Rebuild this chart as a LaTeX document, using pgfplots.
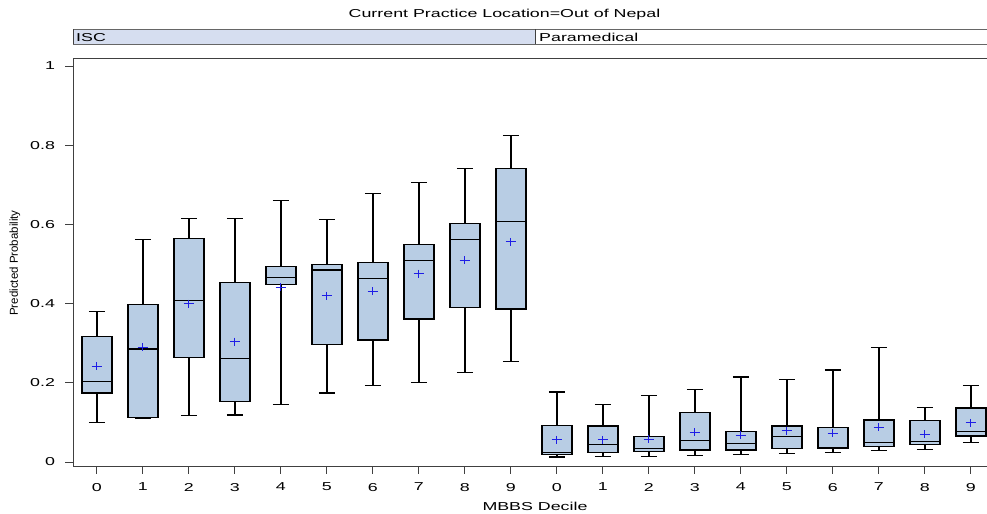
\documentclass[border=0pt]{standalone}
\usepackage{fontspec}
\setmainfont{Liberation Sans}[FakeStretch=1.55]
\newfontfamily\ylfont{Liberation Sans}
\usepackage{pgfplots}
\usepackage{pgfplotstable}
\pgfplotsset{compat=1.18}
\usepgfplotslibrary{statistics}
\definecolor{boxfill}{RGB}{184,205,228}
\definecolor{stripfill}{RGB}{214,222,240}
\definecolor{meanblue}{RGB}{30,30,230}

% means of each decile group (ISC 0-9 at 0..9, Paramedical 0-9 at 10..19)
\pgfplotstableread{
pos mean
0 0.242
1 0.290
2 0.400
3 0.304
4 0.441
5 0.420
6 0.431
7 0.476
8 0.510
9 0.556
10 0.056
11 0.056
12 0.057
13 0.075
14 0.068
15 0.079
16 0.072
17 0.088
18 0.070
19 0.099
}\meandata

\pgfplotsset{
  bx/.style n args={6}{draw=black, fill=boxfill, line width=1.3bp,
    boxplot/draw direction=y,
    boxplot prepared={draw position=#1, lower whisker=#2,
      lower quartile=#3, median=#4, upper quartile=#5, upper whisker=#6,
      box extend=0.65, whisker extend=0.35}},
}

\begin{document}
\fontsize{11.5bp}{13.8bp}\selectfont
\begin{tikzpicture}
\path[use as bounding box] (0,0) rectangle (987bp,514bp);
\begin{axis}[
  at={(73bp,48bp)}, anchor=south west,
  scale only axis, width=914bp, height=407bp,
  xmin=-0.52, xmax=19.35, ymin=-0.0101, ymax=1.0177,
  axis x line*=bottom, axis y line*=left,
  axis line style={black!75, line width=1bp},
  xtick={0,...,19},
  xticklabels={0,1,2,3,4,5,6,7,8,9,0,1,2,3,4,5,6,7,8,9},
  ytick={0,0.2,0.4,0.6,0.8,1},
  yticklabels={0,0.2,0.4,0.6,0.8,1},
  tick align=outside,
  major tick length=8bp,
  tick style={black!75, line width=1bp},
  /pgf/number format/assume math mode=true,
  xticklabel style={yshift=-5bp},
  yticklabel style={xshift=-6bp},
  boxplot/draw direction=y,
  clip=false,
]
% ISC
\addplot[bx={0}{0.100}{0.174}{0.204}{0.317}{0.380}] coordinates {};
\addplot[bx={1}{0.109}{0.112}{0.285}{0.398}{0.562}] coordinates {};
\addplot[bx={2}{0.117}{0.264}{0.407}{0.564}{0.615}] coordinates {};
\addplot[bx={3}{0.119}{0.152}{0.261}{0.454}{0.615}] coordinates {};
\addplot[bx={4}{0.146}{0.449}{0.466}{0.494}{0.660}] coordinates {};
\addplot[bx={5}{0.174}{0.297}{0.485}{0.498}{0.613}] coordinates {};
\addplot[bx={6}{0.193}{0.308}{0.463}{0.503}{0.678}] coordinates {};
\addplot[bx={7}{0.201}{0.361}{0.509}{0.550}{0.706}] coordinates {};
\addplot[bx={8}{0.226}{0.391}{0.562}{0.602}{0.742}] coordinates {};
\addplot[bx={9}{0.254}{0.386}{0.608}{0.742}{0.825}] coordinates {};
% Paramedical
\addplot[bx={10}{0.013}{0.019}{0.024}{0.093}{0.177}] coordinates {};
\addplot[bx={11}{0.014}{0.024}{0.044}{0.091}{0.146}] coordinates {};
\addplot[bx={12}{0.014}{0.026}{0.034}{0.064}{0.168}] coordinates {};
\addplot[bx={13}{0.017}{0.030}{0.055}{0.125}{0.183}] coordinates {};
\addplot[bx={14}{0.019}{0.030}{0.047}{0.077}{0.215}] coordinates {};
\addplot[bx={15}{0.022}{0.034}{0.064}{0.091}{0.209}] coordinates {};
\addplot[bx={16}{0.024}{0.035}{0.036}{0.088}{0.232}] coordinates {};
\addplot[bx={17}{0.029}{0.039}{0.049}{0.106}{0.290}] coordinates {};
\addplot[bx={18}{0.032}{0.045}{0.051}{0.104}{0.138}] coordinates {};
\addplot[bx={19}{0.049}{0.066}{0.077}{0.136}{0.193}] coordinates {};
% means
\addplot[only marks, mark=+, color=meanblue, mark size=4bp,
  mark options={xscale=1.3, line width=1bp}] table[x=pos, y=mean] {\meandata};
\draw[black!75, line width=1bp] (rel axis cs:0,1) -- (rel axis cs:1,1);
\end{axis}
% strips
\fill[stripfill] (73bp,469.7bp) rectangle (535bp,484.5bp);
\draw[black!60, line width=1bp] (73bp,484.5bp) -- (990bp,484.5bp);
\draw[black!60, line width=1bp] (73bp,469.7bp) -- (990bp,469.7bp);
\draw[black!75, line width=1bp] (73bp,469.7bp) -- (73bp,484.5bp);
\draw[black!75, line width=1bp] (535bp,469.7bp) -- (535bp,484.5bp);
\node[anchor=west, inner sep=0pt] at (76bp,476.5bp) {ISC};
\node[anchor=west, inner sep=0pt] at (539bp,476.5bp) {Paramedical};
% title
\node[inner sep=0pt] at (504.5bp,499bp) {Current Practice Location=Out of Nepal};
% axis labels
\node[inner sep=0pt] at (535bp,8bp) {MBBS Decile};
\node[inner sep=0pt, rotate=90] at (15bp,251bp) {\ylfont Predicted Probability};
\end{tikzpicture}
\end{document}
